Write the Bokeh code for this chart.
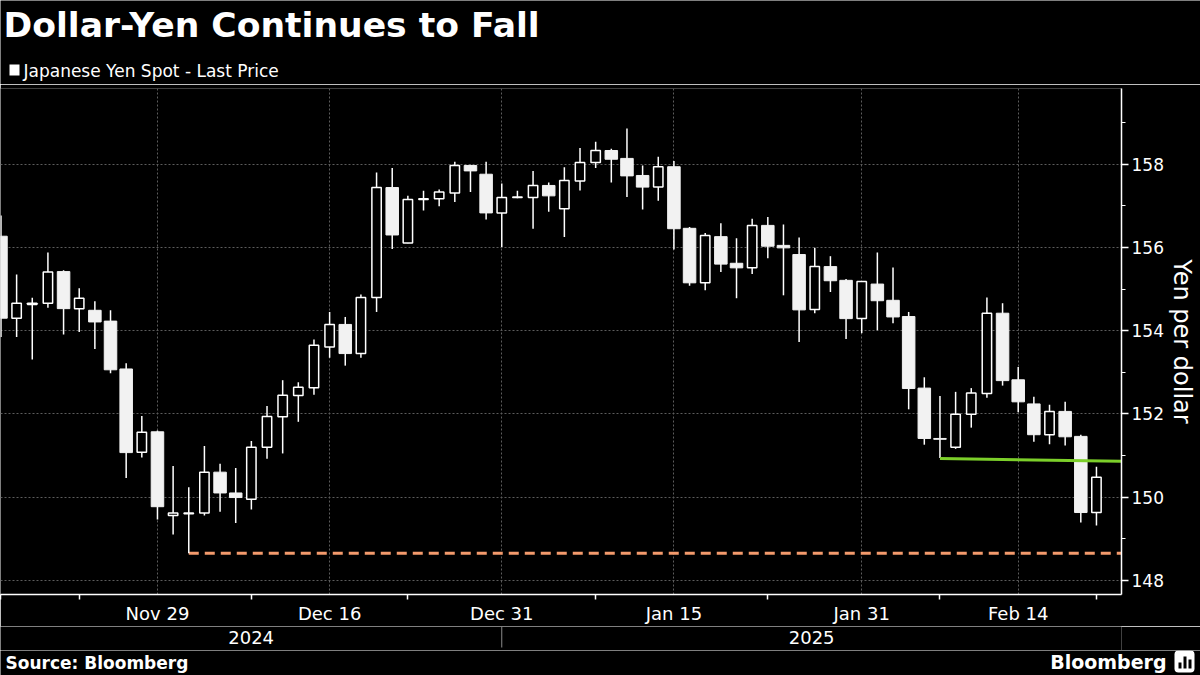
from bokeh.plotting import figure
from bokeh.layouts import column
from bokeh.models import ColumnDataSource, FixedTicker, Range1d
from bokeh.embed import file_html
from bokeh.resources import INLINE
from bokeh.core.properties import value

# ---------------- data ----------------
dates = [
    "2024-11-15", "2024-11-18", "2024-11-19", "2024-11-20", "2024-11-21", "2024-11-22",
    "2024-11-25", "2024-11-26", "2024-11-27", "2024-11-28", "2024-11-29",
    "2024-12-02", "2024-12-03", "2024-12-04", "2024-12-05", "2024-12-06",
    "2024-12-09", "2024-12-10", "2024-12-11", "2024-12-12", "2024-12-13",
    "2024-12-16", "2024-12-17", "2024-12-18", "2024-12-19", "2024-12-20",
    "2024-12-23", "2024-12-24", "2024-12-25", "2024-12-26", "2024-12-27",
    "2024-12-30", "2024-12-31",
    "2025-01-01", "2025-01-02", "2025-01-03",
    "2025-01-06", "2025-01-07", "2025-01-08", "2025-01-09", "2025-01-10",
    "2025-01-13", "2025-01-14", "2025-01-15", "2025-01-16", "2025-01-17",
    "2025-01-20", "2025-01-21", "2025-01-22", "2025-01-23", "2025-01-24",
    "2025-01-27", "2025-01-28", "2025-01-29", "2025-01-30", "2025-01-31",
    "2025-02-03", "2025-02-04", "2025-02-05", "2025-02-06", "2025-02-07",
    "2025-02-10", "2025-02-11", "2025-02-12", "2025-02-13", "2025-02-14",
    "2025-02-17", "2025-02-18", "2025-02-19", "2025-02-20", "2025-02-21",
]
opens = [
    156.27, 154.30, 154.63, 154.66, 155.42, 154.53, 154.49, 154.23, 153.08, 151.08, 151.57,
    149.56, 149.60, 149.62, 150.60, 150.10, 149.95, 151.20, 151.93, 152.44, 152.63,
    153.61, 154.15, 153.45, 154.80, 157.44, 156.11, 157.15, 157.17, 157.31, 157.97,
    157.76, 156.83, 157.20, 157.20, 157.49, 156.93, 157.60, 158.04, 158.33, 158.14,
    157.73, 157.45, 157.94, 156.46, 155.15, 156.26, 155.62, 155.51, 156.53, 156.05,
    155.83, 154.51, 155.54, 155.21, 154.29, 155.12, 154.73, 154.34, 152.62, 151.41,
    151.20, 151.99, 152.49, 154.42, 152.82, 152.24, 151.50, 152.06, 151.46, 149.63,
]
highs = [
    156.77, 155.35, 154.79, 155.88, 155.45, 155.02, 154.71, 154.49, 153.22, 151.95, 151.60,
    150.75, 150.24, 151.23, 150.80, 150.70, 151.35, 152.19, 152.81, 152.76, 153.79,
    154.45, 154.33, 154.87, 157.80, 157.91, 157.24, 157.36, 157.39, 158.06, 157.99,
    158.06, 157.54, 157.36, 157.84, 157.56, 157.93, 158.39, 158.54, 158.37, 158.86,
    157.97, 158.18, 158.08, 156.49, 156.35, 156.58, 156.22, 156.69, 156.73, 156.55,
    156.24, 155.99, 155.79, 155.24, 155.19, 155.88, 155.52, 154.45, 152.88, 152.43,
    152.53, 152.62, 154.80, 154.66, 153.13, 152.41, 152.22, 152.29, 151.50, 150.73,
]
lows = [
    153.85, 153.85, 153.31, 154.55, 153.91, 153.97, 153.56, 152.98, 150.46, 150.95, 149.46,
    149.10, 148.65, 149.56, 149.65, 149.38, 149.70, 150.92, 151.05, 151.81, 152.46,
    153.35, 153.16, 153.35, 154.45, 155.96, 156.10, 156.89, 156.99, 157.09, 157.33,
    156.67, 156.01, 157.18, 156.45, 156.86, 156.25, 157.37, 157.91, 157.56, 157.21,
    156.91, 157.12, 155.95, 155.08, 154.97, 155.41, 154.78, 155.36, 155.74, 154.85,
    153.73, 154.42, 154.93, 153.80, 153.94, 154.01, 154.18, 152.11, 151.26, 150.94,
    151.16, 151.67, 152.39, 152.68, 152.04, 151.33, 151.27, 151.24, 149.39, 149.32,
]
closes = [
    154.30, 154.66, 154.66, 155.41, 154.53, 154.78, 154.21, 153.06, 151.07, 151.56, 149.77,
    149.62, 149.62, 150.60, 150.10, 149.99, 151.20, 151.94, 152.45, 152.64, 153.65,
    154.15, 153.45, 154.80, 157.44, 156.30, 157.15, 157.17, 157.33, 157.97, 157.84,
    156.83, 157.20, 157.21, 157.49, 157.24, 157.61, 158.04, 158.33, 158.12, 157.72,
    157.45, 157.94, 156.45, 155.15, 156.29, 155.60, 155.51, 156.53, 156.03, 155.99,
    154.50, 155.54, 155.20, 154.29, 155.18, 154.72, 154.33, 152.61, 151.41, 151.39,
    151.99, 152.50, 154.42, 152.80, 152.29, 151.50, 152.06, 151.45, 149.63, 150.48,
]

date_tick_dates = ["2024-11-29", "2024-12-16", "2024-12-31", "2025-01-15", "2025-01-31", "2025-02-14"]
date_tick_labels = ["Nov 29", "Dec 16", "Dec 31", "Jan 15", "Jan 31", "Feb 14"]
boundary_dates = ["2024-11-15", "2024-11-22", "2024-12-09", "2024-12-23",
                  "2025-01-08", "2025-01-23", "2025-02-07", "2025-02-21"]
year_labels = ["2024", "2025"]
year_break_date = "2024-12-31"
y_ticks = [148, 150, 152, 154, 156, 158]
y_minor_ticks = [149, 151, 153, 155, 157, 159]

support_start = "2024-12-03"
support_level = 148.65
trend_start = "2025-02-07"
trend_values = [150.93, 150.86]

title_text = "Dollar-Yen Continues to Fall"
legend_text = "Japanese Yen Spot - Last Price"
y_label = "Yen per dollar"
source_text = "Source: Bloomberg"
brand_text = "Bloomberg"

# ---------------- style / layout ----------------
FONT = "DejaVu Sans"
GRID = "#5c5c5c"
W = 1200
HEAD_H = 84          # page rows 0..84
MAIN_END = 626       # main chart rows 84..626
YEAR_END = 650       # year row 626..650
FOOT_H = 675 - YEAR_END
X_START, X_END = -0.03, 71.6
Y_START, Y_END = 147.66, 159.82
RIGHT_BORDER = 79


def blank(h, top, x_range=None, right=0, align=False):
    f = figure(width=W, height=h, x_range=x_range if x_range is not None else Range1d(0, W),
               y_range=Range1d(top + h, top),
               x_axis_type=None, y_axis_type=None, output_backend="svg",
               toolbar_location=None, background_fill_color="black",
               border_fill_color="black", outline_line_color=None,
               min_border_left=0, min_border_right=right, min_border_top=0,
               min_border_bottom=0)
    f.frame_align = align
    f.grid.visible = False
    return f


# header
head = blank(HEAD_H, 0)
head.text(x=[3], y=[24], text=[title_text], text_font=value(FONT), text_font_size="34.6px",
          text_font_style="bold", text_color="white", text_baseline="middle")
head.quad(left=[9], right=[19], top=[64], bottom=[75], fill_color="white", line_color=None)
head.text(x=[23], y=[70], text=[legend_text], text_font=value(FONT), text_font_size="17px",
          text_color="white", text_baseline="middle")

# main chart
xs = list(range(len(dates)))
up = [c >= o for o, c in zip(opens, closes)]
src_up = ColumnDataSource(dict(
    x=[x for x, u in zip(xs, up) if u],
    top=[c for c, u in zip(closes, up) if u],
    bottom=[o for o, u in zip(opens, up) if u]))
src_dn = ColumnDataSource(dict(
    x=[x for x, u in zip(xs, up) if not u],
    top=[o for o, u in zip(opens, up) if not u],
    bottom=[c for c, u in zip(closes, up) if not u]))
src_wick = ColumnDataSource(dict(x=xs, high=highs, low=lows))

xr = Range1d(X_START, X_END)
MAIN_H = MAIN_END - HEAD_H
p = figure(width=W, height=MAIN_H, x_range=xr,
           y_range=Range1d(Y_START, Y_END), y_axis_location="right",
           output_backend="svg", toolbar_location=None,
           background_fill_color="black", border_fill_color="black",
           outline_line_color=None, min_border_left=0, min_border_right=RIGHT_BORDER,
           min_border_top=4, min_border_bottom=MAIN_H - 4 - 507)

tick_pos = [dates.index(d) for d in date_tick_dates]
bound_pos = [dates.index(d) for d in boundary_dates]
sep = dates.index(year_break_date)

xa = p.xaxis[0]
xa.ticker = FixedTicker(ticks=tick_pos, minor_ticks=bound_pos)
xa.major_label_overrides = {t: l for t, l in zip(tick_pos, date_tick_labels)}
xa.major_tick_out = 0
xa.major_tick_in = 0
xa.minor_tick_out = 5
xa.minor_tick_in = 0
xa.axis_line_color = "white"
xa.axis_line_width = 1.5
xa.minor_tick_line_color = "white"
xa.minor_tick_line_width = 1.5
xa.major_label_text_color = "white"
xa.major_label_text_font = FONT
xa.major_label_text_font_size = "18px"
xa.major_label_standoff = 3

yax = p.yaxis[0]
yax.ticker = FixedTicker(ticks=y_ticks, minor_ticks=y_minor_ticks)
yax.axis_line_color = "white"
yax.axis_line_width = 1.5
yax.major_tick_line_color = "white"
yax.major_tick_line_width = 1.5
yax.major_tick_out = 7
yax.major_tick_in = 0
yax.minor_tick_line_color = "white"
yax.minor_tick_out = 4
yax.minor_tick_in = 0
yax.major_label_text_color = "white"
yax.major_label_text_font = FONT
yax.major_label_text_font_size = "17px"
yax.major_label_standoff = 3
yax.axis_label = y_label
yax.axis_label_text_color = "white"
yax.axis_label_text_font = FONT
yax.axis_label_text_font_style = "normal"
yax.axis_label_text_font_size = "24px"
yax.axis_label_standoff = 1

p.xgrid.ticker = FixedTicker(ticks=tick_pos)
p.xgrid.grid_line_color = GRID
p.xgrid.grid_line_dash = "2 2"
p.ygrid.grid_line_color = GRID
p.ygrid.grid_line_dash = "2 2"

sx = dates.index(support_start)
p.line([sx, X_END], [support_level, support_level], line_color="#f39a6c",
       line_width=3, line_dash="10 6")

p.segment(x0="x", y0="low", x1="x", y1="high", source=src_wick,
          line_color="white", line_width=1.5)
p.vbar(x="x", top="top", bottom="bottom", width=0.8, source=src_dn,
       fill_color="#f2f2f2", line_color="#f2f2f2", line_width=1)
p.vbar(x="x", top="top", bottom="bottom", width=0.6, source=src_up,
       fill_color="black", line_color="white", line_width=1.5)

tx = dates.index(trend_start)
p.line([tx, X_END], trend_values, line_color="#7ccf2a", line_width=3)

# year row (shares the chart's x scale)
yrow = blank(YEAR_END - MAIN_END, MAIN_END, x_range=xr, right=RIGHT_BORDER, align=True)
year_pos = [(X_START + sep) / 2, (sep + X_END) / 2]
yrow.text(x=year_pos, y=[637, 637], text=year_labels, text_font=value(FONT),
          text_font_size="18px", text_color="white", text_align="center",
          text_baseline="middle")
yrow.segment(x0=[sep], y0=[MAIN_END], x1=[sep], y1=[647], line_color="#8a8a8a",
             line_width=1)

# footer
foot = blank(FOOT_H, YEAR_END)
foot.text(x=[5], y=[662], text=[source_text], text_font=value(FONT), text_font_size="17px",
          text_font_style="bold", text_color="white", text_baseline="middle")
foot.text(x=[1166], y=[661], text=[brand_text], text_font=value(FONT), text_font_size="19px",
          text_font_style="bold", text_color="white", text_align="right",
          text_baseline="middle")
foot.rect(x=[1184], y=[661], width=20, height=22, fill_color="white", line_color=None,
          border_radius=4)
foot.quad(left=[1178, 1183, 1188], right=[1181, 1186, 1191], top=[662, 656, 659],
          bottom=[668, 668, 668], fill_color="black", line_color=None)

layout = column(head, p, yrow, foot, spacing=0)
open("out.html", "w").write(file_html(layout, INLINE))
